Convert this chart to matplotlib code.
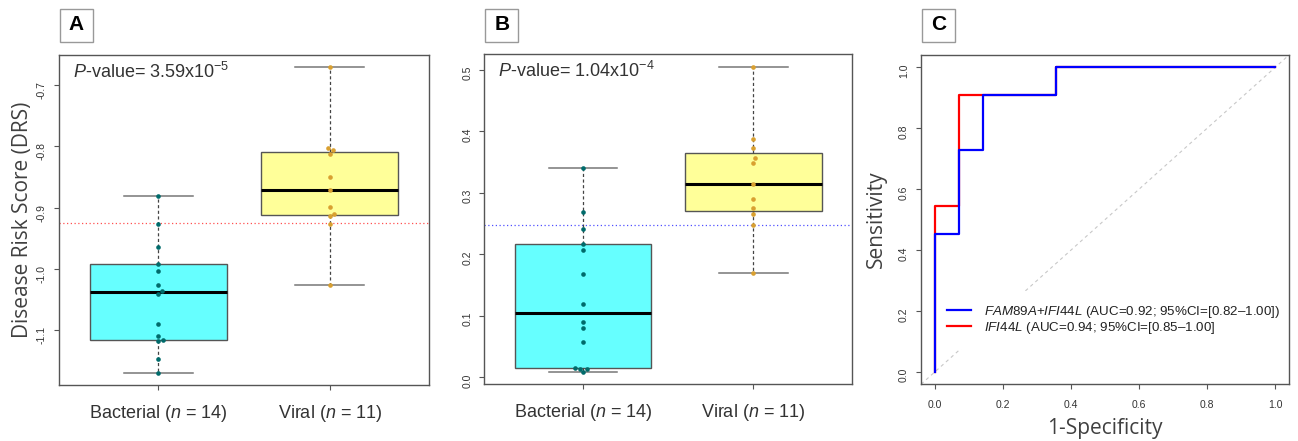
import numpy as np
import matplotlib
matplotlib.use('Agg')
import matplotlib.pyplot as plt
from matplotlib.patches import Rectangle
from matplotlib.lines import Line2D

plt.rcParams['font.family'] = ['Liberation Sans', 'DejaVu Sans']
plt.rcParams['mathtext.fontset'] = 'custom'
plt.rcParams['mathtext.rm'] = 'Liberation Sans'
plt.rcParams['mathtext.it'] = 'Liberation Sans:italic'
plt.rcParams['axes.unicode_minus'] = False

W, H = 1298, 441

# ---- data ----
group_names = ['Bacterial', 'Viral']
group_n = [14, 11]

# panel A : disease risk score
drs_bacterial = [-0.8805, -0.926, -0.964, -0.992, -1.003, -1.027, -1.036,
                 -1.041, -1.090, -1.110, -1.117, -1.118, -1.147, -1.170]
drs_viral = [-0.6705, -0.8025, -0.8058, -0.8118, -0.8494, -0.8718, -0.899,
             -0.9105, -0.913, -0.926, -1.027]
drs_cutoff = -0.9253
drs_pvalue = ('3.59', '-5')

# panel B : IFI44L
ifi_bacterial = [0.3413, 0.2693, 0.241, 0.2176, 0.2066, 0.1674, 0.1194,
                 0.0894, 0.0796, 0.0578, 0.0153, 0.0142, 0.0136, 0.0087]
ifi_viral = [0.5055, 0.3877, 0.3735, 0.3566, 0.3494, 0.3151, 0.2895,
             0.2748, 0.2655, 0.2486, 0.1695]
ifi_cutoff = 0.2486
ifi_pvalue = ('1.04', '-4')

# panel C : ROC curves
roc_fpr_combo = [0.0, 0.0, 0.0714, 0.0714, 0.1429, 0.1429, 0.3571, 0.3571, 1.0]
roc_tpr_combo = [0.0, 0.4545, 0.4545, 0.7273, 0.7273, 0.9091, 0.9091, 1.0, 1.0]
roc_fpr_ifi = [0.0, 0.0, 0.0, 0.0714, 0.0714, 0.1429, 0.3571, 0.3571, 1.0]
roc_tpr_ifi = [0.0, 0.4545, 0.5455, 0.5455, 0.9091, 0.9091, 0.9091, 1.0, 1.0]
roc_labels = [r'$\it{FAM89A}$$\it{+}$$\it{IFI44L}$ (AUC=0.92; 95%CI=[0.82–1.00])',
              r'$\it{IFI44L}$ (AUC=0.94; 95%CI=[0.85–1.00]']


def fivenum(v):
    v = np.sort(np.asarray(v))
    n = len(v)
    n4 = np.floor((n + 3) / 2) / 2
    d = np.array([1, n4, (n + 1) / 2, n + 1 - n4, n]) - 1
    return 0.5 * (v[np.floor(d).astype(int)] + v[np.ceil(d).astype(int)])


def box_stats(v):
    v = np.asarray(v)
    lo, q1, med, q3, hi = fivenum(v)
    iqr = q3 - q1
    inside = v[(v >= q1 - 1.5 * iqr) & (v <= q3 + 1.5 * iqr)]
    return dict(med=med, q1=q1, q3=q3, whislo=inside.min(),
                whishi=inside.max(), fliers=[])


def swarm(vals, px_y, d=4.7):
    # beeswarm style offsets (pixels), closest free spot to the centre
    vals = np.asarray(vals)
    out = np.zeros(len(vals))
    placed = []
    for i in np.argsort(vals):
        y = vals[i] * px_y
        bad = []
        for xj, yj in placed:
            dy = abs(y - yj)
            if dy < d:
                w = np.sqrt(d ** 2 - dy ** 2)
                bad.append((xj - w, xj + w))
        cands = sorted([0.0] + [b for iv in bad for b in iv], key=lambda c: (abs(c), -c))
        x = 0.0
        for c in cands:
            if all(not (lo + 1e-9 < c < hi - 1e-9) for lo, hi in bad):
                x = c
                break
        placed.append((x, y))
        out[i] = x
    return out


def style_axes(ax):
    for s in ax.spines.values():
        s.set_color('#555555')
        s.set_linewidth(1.0)
        s.set_zorder(8)
    ax.tick_params(direction='out', length=3.6, width=0.8, color='#555555',
                   labelcolor='#333333', labelsize=7.5)
    ax.tick_params(axis='y', labelrotation=90, pad=5)


def add_tag(fig, letter, left_px):
    fig.add_artist(Rectangle((left_px / W, 1 - 41.7 / H), 33 / W, 33 / H,
                             transform=fig.transFigure, facecolor='white',
                             edgecolor='#999999', lw=1.0))
    fig.text((left_px + 16.5) / W, 1 - 25 / H, letter, ha='center', va='center',
             fontsize=15, fontweight='bold', color='black')


def box_panel(ax, bact, vir, cutoff, cut_color, pval, ax_px):
    xlim = (0.42, 2.58)
    allv = np.concatenate([bact, vir])
    pad = 0.04 * (allv.max() - allv.min())
    ylim = (allv.min() - pad, allv.max() + pad)
    ax.set_xlim(*xlim)
    ax.set_ylim(*ylim)

    stats = [box_stats(bact), box_stats(vir)]
    fills = ['#66FFFF', '#FFFF99']
    bp = ax.bxp(stats, positions=[1, 2], widths=0.8, capwidths=0.4,
                showfliers=False, patch_artist=True,
                boxprops=dict(edgecolor='#555555', linewidth=1.0),
                medianprops=dict(color='black', linewidth=2.2),
                whiskerprops=dict(color='#444444', linewidth=0.9, linestyle=(0, (2.5, 2))),
                capprops=dict(color='#777777', linewidth=1.1))
    for patch, c in zip(bp['boxes'], fills):
        patch.set_facecolor(c)

    ax.axhline(cutoff, color=cut_color, ls=(0, (1, 2)), lw=0.9, zorder=1.5)

    px_x = ax_px[0] / (xlim[1] - xlim[0])
    px_y = ax_px[1] / (ylim[1] - ylim[0])
    for pos, vals, col in [(1, bact, '#006B6B'), (2, vir, '#D9A030')]:
        offs = swarm(vals, px_y) / px_x
        ax.scatter(pos + offs, vals, s=11, color=col, zorder=4, linewidths=0)

    ax.set_xticks([1, 2])
    ax.set_xticklabels([f'{g} ($\\it{{n}}$ = {n})' for g, n in zip(group_names, group_n)],
                       fontsize=13, color='#333333')
    ax.tick_params(axis='x', pad=9, labelcolor='#333333', labelsize=13)
    ax.text(0.038, 0.95, f'$\\it{{P}}$-value= {pval[0]}x10$^{{{pval[1]}}}$',
            transform=ax.transAxes, ha='left', va='center', fontsize=13, color='#333333')


fig = plt.figure(figsize=(W / 100, H / 100), dpi=100)

# panel A
axA = fig.add_axes([58.7 / W, 1 - 385 / H, 370.6 / W, 330 / H])
style_axes(axA)
box_panel(axA, drs_bacterial, drs_viral, drs_cutoff, '#FF5050', drs_pvalue, (370.6, 330))
axA.set_yticks([-0.7, -0.8, -0.9, -1.0, -1.1])
axA.set_yticklabels(['-0.7', '-0.8', '-0.9', '-1.0', '-1.1'])
axA.set_ylabel('Disease Risk Score (DRS)', fontsize=15, color='#404040', family='Open Sans')
axA.yaxis.set_label_coords(-0.097, 0.5)
axA.yaxis.label.set_va('center')

# panel B
axB = fig.add_axes([484.3 / W, 1 - 384.3 / H, 368 / W, 330 / H])
style_axes(axB)
box_panel(axB, ifi_bacterial, ifi_viral, ifi_cutoff, '#5050FF', ifi_pvalue, (368, 330))
axB.set_yticks([0.0, 0.1, 0.2, 0.3, 0.4, 0.5])

# panel C
axC = fig.add_axes([921 / W, 1 - 384.3 / H, 368 / W, 329.3 / H])
style_axes(axC)
axC.set_xlim(-0.04, 1.04)
axC.set_ylim(-0.04, 1.04)
axC.plot([-1, 2], [-1, 2], color='#C8C8C8', ls=(0, (3, 3)), lw=0.8, zorder=1)
axC.plot(roc_fpr_ifi, roc_tpr_ifi, color='red', lw=1.6, zorder=6)
axC.plot(roc_fpr_combo, roc_tpr_combo, color='blue', lw=1.6, zorder=7)
ticks = [0.0, 0.2, 0.4, 0.6, 0.8, 1.0]
axC.set_xticks(ticks)
axC.set_yticks(ticks)
axC.set_xticklabels([f'{t:.1f}' for t in ticks])
axC.set_yticklabels([f'{t:.1f}' for t in ticks])
axC.tick_params(axis='x', pad=8)
axC.set_xlabel('1-Specificity', fontsize=15, color='#404040', family='Open Sans')
axC.set_ylabel('Sensitivity', fontsize=15, color='#404040', family='Open Sans')
axC.xaxis.set_label_coords(0.5, -0.134)
axC.xaxis.label.set_va('center')
axC.yaxis.set_label_coords(-0.12, 0.5)
axC.yaxis.label.set_va('center')
handles = [Line2D([], [], color='blue', lw=1.6), Line2D([], [], color='red', lw=1.6)]
leg = axC.legend(handles, roc_labels, loc='center left', bbox_to_anchor=(0.035, 0.195),
                 borderaxespad=0, fontsize=9.6, handlelength=1.75, handletextpad=1.0,
                 labelspacing=0.0, borderpad=1.0, frameon=True, fancybox=False,
                 facecolor='white', edgecolor='none', framealpha=1)
leg.set_zorder(5)
for t in leg.get_texts():
    t.set_color('#222222')

add_tag(fig, 'A', 60)
add_tag(fig, 'B', 485.3)
add_tag(fig, 'C', 921.7)

fig.savefig('out.png', dpi=100)
